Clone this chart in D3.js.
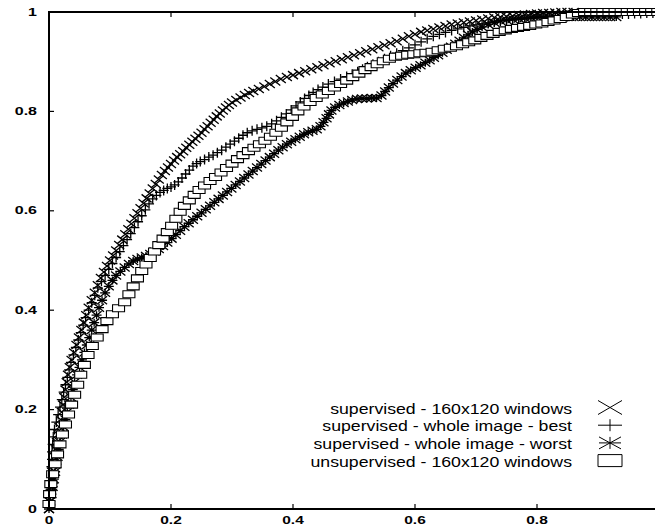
<!DOCTYPE html>
<html>
<head>
<meta charset="utf-8">
<script src="https://cdn.jsdelivr.net/npm/d3@7"></script>
<style>
  body { margin: 0; background: #fff; }
  svg { display: block; }
</style>
</head>
<body>
<svg id="chart" width="655" height="525"></svg>
<script>
// ROC points: [false positive rate, true positive rate]
const sup160 = [[0,0],[.001,.015],[.002,.03],[.003,.045],[.004,.06],[.005,.075],[.007,.09],[.009,.105],[.011,.12],[.013,.135],[.015,.15],[.017,.165],[.019,.18],[.021,.195],[.023,.21],[.025,.225],[.027,.24],[.029,.255],[.031,.27],[.034,.285],[.037,.3],[.041,.315],[.045,.33],[.049,.345],[.053,.36],[.057,.375],[.061,.39],[.065,.405],[.07,.42],[.075,.435],[.08,.45],[.085,.465],[.09,.477],[.095,.489],[.1,.5],[.105,.51],[.11,.52],[.115,.531],[.12,.542],[.125,.553],[.13,.563],[.135,.574],[.14,.585],[.145,.595],[.15,.605],[.155,.615],[.16,.625],[.165,.635],[.17,.645],[.175,.654],[.18,.663],[.185,.672],[.19,.68],[.195,.687],[.2,.694],[.205,.701],[.21,.708],[.215,.714],[.22,.72],[.225,.727],[.23,.733],[.235,.739],[.24,.745],[.245,.751],[.25,.757],[.255,.764],[.26,.77],[.265,.777],[.27,.783],[.275,.79],[.28,.796],[.285,.802],[.29,.808],[.295,.813],[.3,.818],[.307,.823],[.314,.828],[.321,.833],[.328,.837],[.335,.841],[.344,.845],[.353,.85],[.362,.855],[.371,.86],[.38,.865],[.39,.869],[.4,.873],[.41,.877],[.42,.881],[.43,.885],[.44,.889],[.45,.893],[.46,.897],[.47,.901],[.48,.905],[.49,.909],[.5,.913],[.51,.917],[.52,.921],[.53,.925],[.54,.929],[.55,.933],[.56,.937],[.57,.941],[.58,.946],[.59,.951],[.6,.955],[.61,.96],[.62,.963],[.63,.966],[.64,.969],[.65,.972],[.66,.975],[.67,.977],[.68,.979],[.69,.981],[.7,.983],[.71,.985],[.72,.987],[.73,.989],[.74,.99],[.75,.991],[.76,.992],[.77,.994],[.78,.995],[.79,.996],[.8,.997],[.81,.998],[.82,.998],[.83,.999],[.84,1],[.85,1],[.86,1]];

const wholeBest = [[.002,.01],[.002,.025],[.003,.04],[.003,.055],[.004,.07],[.004,.085],[.005,.1],[.005,.115],[.006,.13],[.007,.145],[.009,.16],[.012,.175],[.015,.19],[.018,.205],[.021,.22],[.024,.235],[.027,.25],[.03,.265],[.033,.28],[.036,.295],[.04,.31],[.044,.325],[.048,.34],[.052,.355],[.056,.37],[.06,.385],[.065,.4],[.07,.415],[.075,.43],[.08,.445],[.086,.458],[.092,.47],[.098,.482],[.104,.494],[.11,.506],[.116,.518],[.122,.53],[.128,.542],[.134,.554],[.14,.566],[.146,.578],[.152,.59],[.158,.602],[.164,.614],[.17,.624],[.176,.631],[.182,.637],[.188,.641],[.194,.645],[.2,.648],[.206,.652],[.212,.658],[.218,.666],[.224,.674],[.23,.682],[.236,.69],[.242,.695],[.248,.699],[.255,.703],[.262,.708],[.269,.712],[.276,.717],[.283,.722],[.29,.728],[.297,.734],[.304,.74],[.311,.746],[.318,.752],[.325,.757],[.333,.761],[.341,.764],[.349,.767],[.357,.77],[.365,.775],[.373,.781],[.381,.788],[.389,.795],[.397,.803],[.405,.811],[.412,.819],[.419,.826],[.426,.832],[.433,.838],[.441,.844],[.449,.849],[.458,.855],[.468,.86],[.478,.865],[.488,.87],[.497,.875],[.506,.88],[.514,.885],[.522,.89],[.531,.895],[.54,.9],[.55,.906],[.56,.912],[.57,.917],[.58,.922],[.59,.928],[.6,.934],[.61,.94],[.62,.946],[.63,.951],[.64,.955],[.65,.959],[.66,.963],[.67,.966],[.68,.969],[.69,.972],[.7,.974],[.71,.976],[.72,.978],[.73,.98],[.74,.982],[.75,.983],[.76,.984],[.77,.985],[.78,.986],[.79,.987],[.8,.988],[.81,.989],[.82,.99],[.83,.99],[.84,.991],[.85,.991],[.86,.992],[.87,.992],[.88,.993],[.89,.993],[.9,.994],[.91,.994],[.92,.995],[.93,.995],[.94,.996],[.95,.996],[.96,.997],[.97,.997],[.98,.998],[.99,.998]];

const wholeWorst = [[0,0],[.002,.015],[.004,.03],[.006,.045],[.008,.06],[.01,.075],[.012,.09],[.014,.105],[.016,.12],[.018,.135],[.021,.15],[.024,.165],[.027,.18],[.03,.195],[.033,.21],[.036,.225],[.039,.24],[.042,.255],[.046,.27],[.05,.285],[.054,.3],[.058,.315],[.062,.33],[.066,.345],[.07,.36],[.074,.375],[.078,.39],[.082,.405],[.087,.42],[.092,.435],[.098,.448],[.104,.46],[.11,.47],[.117,.478],[.124,.486],[.131,.493],[.138,.499],[.145,.503],[.152,.506],[.159,.509],[.166,.513],[.173,.518],[.18,.523],[.187,.529],[.194,.536],[.201,.544],[.208,.552],[.215,.56],[.222,.568],[.229,.575],[.236,.582],[.243,.589],[.25,.596],[.257,.603],[.264,.61],[.271,.617],[.278,.624],[.285,.631],[.292,.638],[.299,.645],[.306,.652],[.313,.659],[.32,.666],[.327,.673],[.334,.68],[.341,.687],[.348,.694],[.355,.701],[.362,.708],[.369,.715],[.376,.722],[.383,.728],[.39,.734],[.397,.739],[.404,.744],[.411,.749],[.418,.754],[.425,.758],[.432,.761],[.439,.764],[.445,.77],[.45,.778],[.455,.786],[.459,.794],[.463,.802],[.469,.808],[.476,.813],[.483,.817],[.49,.82],[.497,.823],[.505,.825],[.513,.826],[.521,.826],[.529,.827],[.537,.827],[.545,.832],[.551,.84],[.557,.848],[.564,.856],[.571,.863],[.578,.87],[.585,.877],[.593,.883],[.601,.888],[.609,.893],[.617,.898],[.624,.903],[.631,.908],[.638,.913],[.645,.918],[.652,.924],[.659,.93],[.666,.936],[.673,.942],[.68,.948],[.687,.954],[.694,.96],[.702,.965],[.71,.97],[.72,.975],[.73,.979],[.74,.982],[.75,.984],[.76,.986],[.77,.987],[.78,.988],[.79,.989],[.8,.99],[.81,.99],[.82,.99],[.83,.99],[.84,.99],[.85,.99],[.86,.99],[.87,.99],[.88,.99],[.89,.99],[.9,.99],[.91,.99],[.92,.99],[.93,.99]];

const unsup160 = [[0,.01],[.001,.03],[.003,.05],[.006,.07],[.01,.09],[.014,.11],[.018,.13],[.022,.15],[.027,.17],[.032,.19],[.037,.21],[.042,.23],[.047,.25],[.052,.27],[.058,.29],[.064,.31],[.071,.328],[.079,.345],[.087,.362],[.095,.378],[.104,.392],[.114,.404],[.124,.416],[.131,.432],[.138,.448],[.145,.464],[.152,.479],[.159,.492],[.166,.505],[.173,.518],[.18,.531],[.187,.544],[.194,.557],[.201,.57],[.208,.584],[.215,.598],[.222,.61],[.23,.621],[.238,.632],[.246,.642],[.255,.651],[.264,.66],[.273,.668],[.282,.677],[.291,.686],[.3,.695],[.309,.704],[.318,.712],[.327,.72],[.336,.727],[.345,.734],[.354,.741],[.363,.749],[.372,.757],[.381,.767],[.39,.778],[.399,.789],[.408,.8],[.418,.81],[.428,.819],[.438,.827],[.448,.834],[.458,.841],[.468,.848],[.478,.855],[.488,.862],[.498,.869],[.508,.876],[.518,.883],[.528,.889],[.538,.895],[.548,.901],[.558,.906],[.568,.91],[.578,.912],[.588,.914],[.598,.915],[.608,.917],[.618,.918],[.628,.92],[.638,.923],[.648,.926],[.658,.928],[.668,.931],[.678,.935],[.688,.939],[.698,.943],[.708,.948],[.718,.952],[.728,.956],[.738,.96],[.748,.963],[.758,.966],[.768,.968],[.778,.97],[.788,.972],[.798,.975],[.808,.977],[.818,.98],[.828,.983],[.838,.986],[.848,.99],[.858,.995],[.868,.998],[.878,1],[.888,1],[.898,1],[.908,1],[.918,1],[.928,1],[.938,1],[.948,1],[.958,1],[.968,1],[.978,1],[.988,1],[.998,1]];

const seriesNames = [
  "supervised - 160x120 windows",
  "supervised - whole image - best",
  "supervised - whole image - worst",
  "unsupervised - 160x120 windows"
];
const yTicks = [0, 0.2, 0.4, 0.6, 0.8, 1];
const xTicks = [0, 0.2, 0.4, 0.6, 0.8];

var svg = d3.select("#chart");

// plot frame (right edge falls just outside the picture)
var x = d3.scaleLinear().domain([0, 1]).range([49, 659]);
var y = d3.scaleLinear().domain([0, 1]).range([509, 12]);

// marker shapes, gnuplot style
function markX(w, h) { return `M${-w},${-h}L${w},${h}M${-w},${h}L${w},${-h}`; }
function markPlus(w, h) { return `M${-w},0L${w},0M0,${-h}L0,${h}`; }
function markStar(w, h) { return markX(w, h) + `M${-w},0L${w},0M0,${-h}L0,${h}`; }
function markBox(w, h) { return `M${-w},${-h}H${w}V${h}H${-w}Z`; }

var series = [
  { pts: sup160, shape: markX, w: 5, h: 4, fill: "none", sw: 1.3 },
  { pts: wholeBest, shape: markPlus, w: 5, h: 5, fill: "none", sw: 1.3 },
  { pts: wholeWorst, shape: markStar, w: 5, h: 4, fill: "none", sw: 1.3 },
  { pts: unsup160, shape: markBox, w: 6, h: 3.5, fill: "#fff", sw: 1.1 }
];

var plot = svg.append("g");

series.forEach(function (s) {
  plot.append("g")
    .selectAll("path")
    .data(s.pts)
    .join("path")
    .attr("transform", d => "translate(" + x(d[0]) + "," + y(d[1]) + ")")
    .attr("d", s.shape(s.w, s.h))
    .attr("fill", s.fill)
    .attr("stroke", "#000")
    .attr("stroke-width", s.sw);
});

// border: left, top, bottom
var frame = svg.append("g").attr("stroke", "#000").attr("stroke-width", 2).attr("fill", "none");
frame.append("path").attr("d", `M${x(1) + 2},${y(1)}H${x(0)}V${y(0)}H${x(1) + 2}`);

// ticks point inward, mirrored on the top
var tickG = svg.append("g").attr("stroke", "#000").attr("stroke-width", 1.2);
yTicks.slice(1, -1).forEach(function (t) {
  tickG.append("line").attr("x1", x(0)).attr("x2", x(0) + 5).attr("y1", y(t)).attr("y2", y(t));
});
xTicks.slice(1).forEach(function (t) {
  tickG.append("line").attr("x1", x(t)).attr("x2", x(t)).attr("y1", y(0)).attr("y2", y(0) - 5);
  tickG.append("line").attr("x1", x(t)).attr("x2", x(t)).attr("y1", y(1)).attr("y2", y(1) + 5);
});

// tick labels (bold, stretched wide like the original)
var fmt = d => d === 0 ? "0" : d === 1 ? "1" : d3.format(".1f")(d);
svg.append("g").selectAll("text")
  .data(yTicks)
  .join("text")
  .attr("transform", d => "translate(37," + (y(d) + 3.5) + ") scale(1.6,1)")
  .attr("text-anchor", "end")
  .style("font", "bold 10px 'Liberation Sans', Arial, sans-serif")
  .text(fmt);
svg.append("g").selectAll("text")
  .data(xTicks)
  .join("text")
  .attr("transform", d => "translate(" + x(d) + ",524) scale(1.55,1)")
  .attr("text-anchor", "middle")
  .style("font", "bold 10px 'Liberation Sans', Arial, sans-serif")
  .text(fmt);

// legend
var legend = svg.append("g");
var legendShapes = [
  { shape: markX, w: 12, h: 7, fill: "none" },
  { shape: markPlus, w: 12, h: 6, fill: "none" },
  { shape: markStar, w: 11, h: 6, fill: "none" },
  { shape: markBox, w: 12, h: 6, fill: "#fff" }
];
seriesNames.forEach(function (name, i) {
  var by = 413.5 + i * 17.7;
  legend.append("text")
    .attr("transform", "translate(572," + by + ") scale(1.18,1)")
    .attr("text-anchor", "end")
    .style("font", "15px 'Liberation Sans', Arial, sans-serif")
    .text(name);
  legend.append("path")
    .attr("transform", "translate(610," + (by - 6) + ")")
    .attr("d", legendShapes[i].shape(legendShapes[i].w, legendShapes[i].h))
    .attr("fill", legendShapes[i].fill)
    .attr("stroke", "#000")
    .attr("stroke-width", 1);
});
</script>
</body>
</html>
